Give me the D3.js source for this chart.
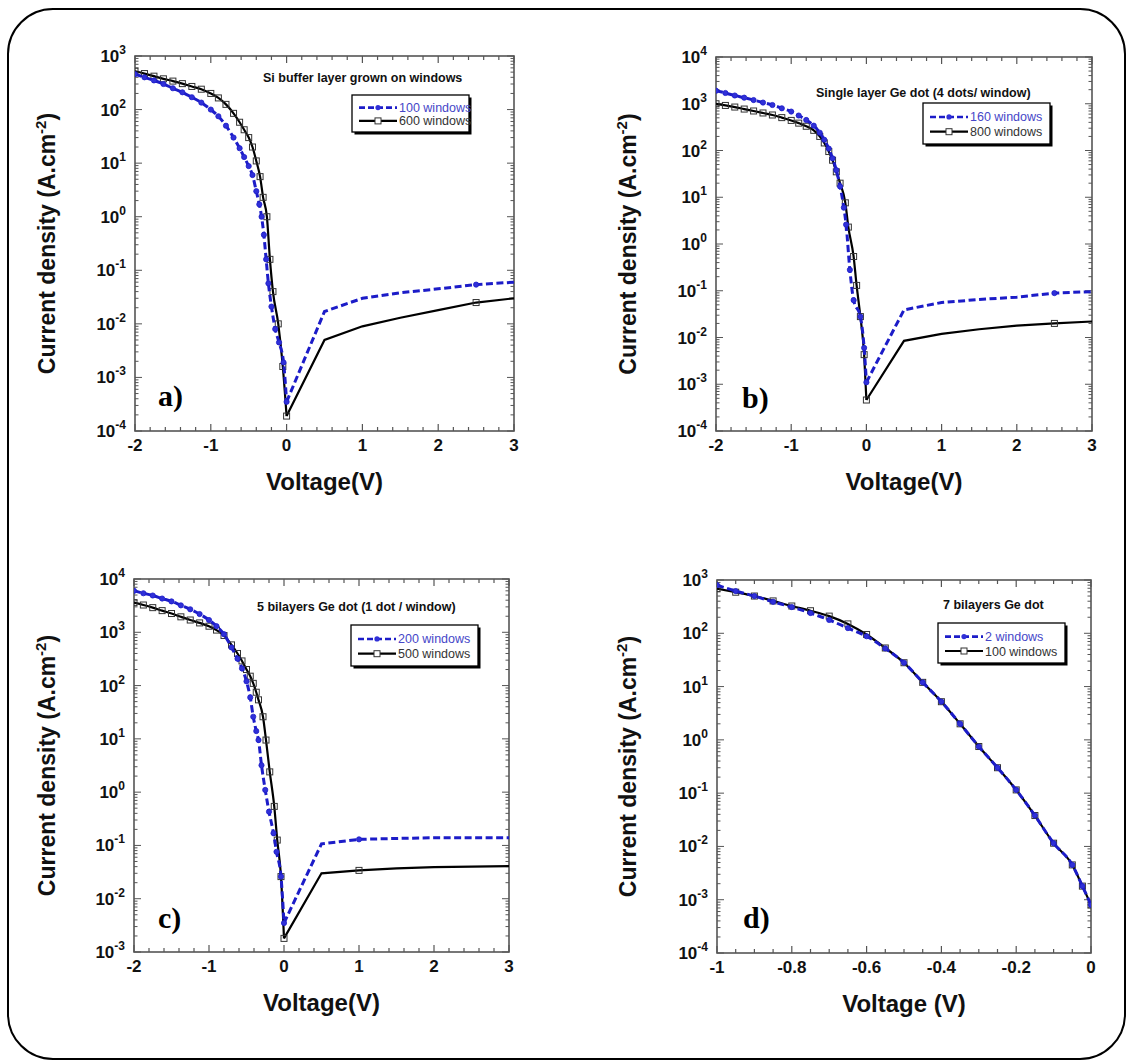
<!DOCTYPE html>
<html><head><meta charset="utf-8">
<script src="https://cdn.jsdelivr.net/npm/d3@7"></script>
<style>body{margin:0;background:#fff}svg{display:block}</style>
</head><body>
<svg id="c" width="1129" height="1062"></svg>
<script>
// ---------------- DATA ----------------
// Panel a: Si buffer layer grown on windows
const aBlueV = [-2, -1.875, -1.75, -1.625, -1.5, -1.375, -1.25, -1.125, -1, -0.9, -0.8, -0.7, -0.62, -0.56, -0.5, -0.45, -0.4, -0.36, -0.33, -0.3, -0.27, -0.24, -0.2, -0.15, -0.1, -0.04, 0, 0.5, 1, 1.5, 2, 2.5, 3];
const aBlueJ = [460, 400, 350, 300, 250, 210, 170, 135, 100, 75, 50, 30, 19, 13, 8.8, 6, 3, 1.7, 1.0, 0.46, 0.16, 0.057, 0.021, 0.008, 0.0045, 0.0019, 0.00035, 0.017, 0.03, 0.038, 0.045, 0.054, 0.06];
const aBlackV = [-2, -1.875, -1.75, -1.625, -1.5, -1.375, -1.25, -1.125, -1, -0.9, -0.8, -0.7, -0.62, -0.56, -0.5, -0.45, -0.4, -0.35, -0.31, -0.26, -0.22, -0.18, -0.11, -0.05, 0, 0.5, 1, 1.5, 2, 2.5, 3];
const aBlackJ = [520, 470, 420, 375, 340, 305, 270, 240, 200, 165, 125, 85, 58, 42, 30, 20, 11, 5.6, 2.3, 1.0, 0.16, 0.04, 0.01, 0.0016, 0.00019, 0.005, 0.009, 0.013, 0.018, 0.025, 0.03];
// Panel b: Single layer Ge dot (4 dots/ window)
const bBlueV = [-2, -1.875, -1.75, -1.625, -1.5, -1.375, -1.25, -1.125, -1, -0.9, -0.8, -0.7, -0.62, -0.56, -0.5, -0.45, -0.4, -0.35, -0.3, -0.27, -0.22, -0.17, -0.08, -0.03, 0, 0.5, 1, 1.5, 2, 2.5, 3];
const bBlueJ = [1900, 1700, 1500, 1350, 1200, 1060, 940, 800, 680, 560, 450, 340, 240, 170, 110, 68, 38, 17, 6, 2.6, 0.28, 0.063, 0.028, 0.006, 0.0011, 0.039, 0.056, 0.065, 0.073, 0.089, 0.096];
const bBlackV = [-2, -1.875, -1.75, -1.625, -1.5, -1.375, -1.25, -1.125, -1, -0.9, -0.8, -0.7, -0.62, -0.56, -0.5, -0.45, -0.4, -0.35, -0.28, -0.24, -0.17, -0.13, -0.08, -0.03, 0, 0.5, 1, 1.5, 2, 2.5, 3];
const bBlackJ = [1000, 920, 850, 770, 700, 635, 575, 505, 440, 385, 330, 270, 200, 145, 95, 62, 35, 20, 7.6, 2.3, 0.54, 0.13, 0.028, 0.0043, 0.00046, 0.0085, 0.012, 0.015, 0.018, 0.02, 0.022];
// Panel c: 5 bilayers Ge dot (1 dot / window)
const cBlueV = [-2, -1.875, -1.75, -1.625, -1.5, -1.375, -1.25, -1.125, -1, -0.9, -0.8, -0.7, -0.62, -0.56, -0.5, -0.45, -0.41, -0.37, -0.34, -0.3, -0.25, -0.2, -0.14, -0.1, -0.04, 0, 0.5, 1, 1.5, 2, 2.5, 3];
const cBlueJ = [6000, 5400, 4900, 4300, 3800, 3200, 2700, 2200, 1700, 1300, 920, 520, 320, 210, 120, 60, 26, 14, 9.5, 3.2, 1.1, 0.43, 0.17, 0.076, 0.026, 0.0035, 0.107, 0.13, 0.135, 0.14, 0.14, 0.14];
const cBlackV = [-2, -1.875, -1.75, -1.625, -1.5, -1.375, -1.25, -1.125, -1, -0.9, -0.8, -0.7, -0.62, -0.56, -0.5, -0.45, -0.41, -0.37, -0.34, -0.28, -0.24, -0.19, -0.13, -0.09, -0.04, 0, 0.5, 1, 1.5, 2, 2.5, 3];
const cBlackJ = [3600, 3250, 2900, 2550, 2250, 1950, 1700, 1500, 1300, 1100, 870, 580, 400, 290, 200, 150, 110, 75, 54, 26, 9.5, 2.4, 0.54, 0.126, 0.026, 0.0018, 0.03, 0.034, 0.037, 0.039, 0.04, 0.041];
// Panel d: 7 bilayers Ge dot
const dBlueV = [-1, -0.95, -0.9, -0.85, -0.8, -0.75, -0.7, -0.65, -0.6, -0.55, -0.5, -0.45, -0.4, -0.35, -0.3, -0.25, -0.2, -0.15, -0.1, -0.05, -0.023, 0];
const dBlueJ = [800, 620, 500, 390, 310, 240, 178, 125, 88, 52, 28, 12, 5.2, 2.0, 0.75, 0.3, 0.115, 0.038, 0.0115, 0.0045, 0.0018, 0.0008];
const dBlackV = [-1, -0.95, -0.9, -0.85, -0.8, -0.75, -0.7, -0.65, -0.6, -0.55, -0.5, -0.45, -0.4, -0.35, -0.3, -0.25, -0.2, -0.15, -0.1, -0.05, -0.023, 0];
const dBlackJ = [690, 590, 500, 405, 325, 265, 210, 150, 95, 53, 28, 12, 5.2, 2.0, 0.75, 0.3, 0.115, 0.038, 0.0115, 0.0045, 0.0018, 0.0008];

// Extra markers drawn in the forward-bias part
const aExtraMarks = [2.5];
const bExtraMarks = [2.5];
const cExtraMarks = [1];
const dExtraMarks = [];

// Texts
const titles = ["Si buffer layer grown on windows", "Single layer Ge dot (4 dots/ window)", "5 bilayers Ge dot (1 dot / window)", "7 bilayers Ge dot"];
const legendBlue = ["100 windows", "160 windows", "200 windows", "2 windows"];
const legendBlack = ["600 windows", "800 windows", "500 windows", "100 windows"];
const panelLetters = ["a)", "b)", "c)", "d)"];
const xTitles = ["Voltage(V)", "Voltage(V)", "Voltage(V)", "Voltage (V)"];
const xTicksWide = [-2, -1, 0, 1, 2, 3];
const xTicksD = [-1, -0.8, -0.6, -0.4, -0.2, 0];

// ---------------- LAYOUT ----------------
const BLUE = "#1c1cc8", BLUE_TXT = "#4646c8", BLACK = "#000";
const zip = (V, J) => V.map((v, i) => ({v, j: J[i]}));
const panels = [
  {l:135, r:514, t:56, b:431, xd:[-2,3], yd:[1e-4,1e3], xt:xTicksWide, minorStep:0.2,
   blue:zip(aBlueV,aBlueJ), black:zip(aBlackV,aBlackJ), extra:aExtraMarks,
   titleX:263, titleY:82, leg:{x:352,y:95,w:117,h:37}, letter:{x:158,y:406}, ytx:55},
  {l:716, r:1092, t:57, b:431, xd:[-2,3], yd:[1e-4,1e4], xt:xTicksWide, minorStep:0.2,
   blue:zip(bBlueV,bBlueJ), black:zip(bBlackV,bBlackJ), extra:bExtraMarks,
   titleX:816, titleY:97, leg:{x:923,y:103,w:127,h:41}, letter:{x:742,y:408}, ytx:636},
  {l:134, r:509, t:579, b:952, xd:[-2,3], yd:[1e-3,1e4], xt:xTicksWide, minorStep:0.2,
   blue:zip(cBlueV,cBlueJ), black:zip(cBlackV,cBlackJ), extra:cExtraMarks,
   titleX:257, titleY:611, leg:{x:351,y:625,w:127,h:41}, letter:{x:158,y:928}, ytx:55},
  {l:717, r:1091, t:580, b:953, xd:[-1,0], yd:[1e-4,1e3], xt:xTicksD, minorStep:0.05,
   blue:zip(dBlueV,dBlueJ), black:zip(dBlackV,dBlackJ), extra:dExtraMarks,
   titleX:943, titleY:609, leg:{x:938,y:623,w:127,h:40}, letter:{x:743,y:928}, ytx:636}
];

const svg = d3.select("#c");
svg.append("rect").attr("width",1129).attr("height",1062).attr("fill","#fff");
// rounded outer frame
svg.append("rect").attr("x",8).attr("y",9).attr("width",1117).attr("height",1050)
  .attr("rx",45).attr("ry",45).attr("fill","none").attr("stroke","#000").attr("stroke-width",2);

const SANS = "'Liberation Sans', Arial, Helvetica, sans-serif";
const SERIF = "'Liberation Serif', 'Times New Roman', serif";

panels.forEach((p, k) => {
  const x = d3.scaleLinear().domain(p.xd).range([p.l, p.r]);
  const y = d3.scaleLog().domain(p.yd).range([p.b, p.t]);
  const g = svg.append("g");

  // ticks (inward on all four sides)
  const axisCol = "#555";
  const minorX = d3.range(p.xd[0], p.xd[1] + 1e-9, p.minorStep);
  const majorSet = new Set(p.xt.map(v => v.toFixed(3)));
  minorX.forEach(v => {
    const major = majorSet.has((+v).toFixed(3));
    const len = major ? 7 : 4;
    const px = x(v);
    g.append("line").attr("x1",px).attr("x2",px).attr("y1",p.b).attr("y2",p.b-len).attr("stroke",axisCol).attr("stroke-width",1.2);
    g.append("line").attr("x1",px).attr("x2",px).attr("y1",p.t).attr("y2",p.t+len).attr("stroke",axisCol).attr("stroke-width",1.2);
  });
  const e0 = Math.round(Math.log10(p.yd[0])), e1 = Math.round(Math.log10(p.yd[1]));
  for (let e = e0; e <= e1; e++) {
    for (let m = 1; m <= 9; m++) {
      const val = m * Math.pow(10, e);
      if (val > p.yd[1] * 1.0001) break;
      const len = m === 1 ? 7 : 3.5;
      const py = y(val);
      g.append("line").attr("x1",p.l).attr("x2",p.l+len).attr("y1",py).attr("y2",py).attr("stroke",axisCol).attr("stroke-width",1);
      g.append("line").attr("x1",p.r).attr("x2",p.r-len).attr("y1",py).attr("y2",py).attr("stroke",axisCol).attr("stroke-width",1);
    }
    const py = y(Math.pow(10, e));
    const t = g.append("text").attr("x", p.l - 9).attr("y", py + 6).attr("text-anchor","end")
      .attr("font-family",SANS).attr("font-weight","bold").attr("font-size",17).attr("fill","#111");
    t.append("tspan").text("10");
    t.append("tspan").attr("dy",-8).attr("font-size",12).text(String(e));
  }
  // frame
  g.append("rect").attr("x",p.l).attr("y",p.t).attr("width",p.r-p.l).attr("height",p.b-p.t)
    .attr("fill","none").attr("stroke",axisCol).attr("stroke-width",1.6);

  // x tick labels
  p.xt.forEach(v => {
    g.append("text").attr("x", x(v)).attr("y", p.b + 20).attr("text-anchor","middle")
      .attr("font-family",SANS).attr("font-weight","bold").attr("font-size",17).attr("fill","#111")
      .text(String(v));
  });

  // axis titles
  g.append("text").attr("x",(p.l+p.r)/2).attr("y",p.b+59).attr("text-anchor","middle")
    .attr("font-family",SANS).attr("font-weight","bold").attr("font-size",24).attr("fill","#111")
    .text(xTitles[k]);
  const yt = g.append("text").attr("transform",`translate(${p.ytx},${(p.t+p.b)/2}) rotate(-90)`)
    .attr("text-anchor","middle").attr("font-family",SANS).attr("font-weight","bold")
    .attr("font-size",23).attr("fill","#111");
  yt.append("tspan").text("Current density (A.cm");
  yt.append("tspan").attr("dy",-9).attr("font-size",15).text("-2");
  yt.append("tspan").attr("dy",9).text(")");

  // curves: smooth through the reverse-bias readings, straight segments for forward bias
  const smooth = d3.line().x(d => x(d.v)).y(d => y(d.j)).curve(d3.curveMonotoneX);
  const straight = d3.line().x(d => x(d.v)).y(d => y(d.j));
  const clip = "clip" + k;
  svg.append("clipPath").attr("id",clip).append("rect").attr("x",p.l).attr("y",p.t-4).attr("width",p.r-p.l).attr("height",p.b-p.t+4);
  const cg = g.append("g").attr("clip-path",`url(#${clip})`);
  const hasMark = d => d.v <= 0 || p.extra.includes(d.v);
  const drawSeries = (data, style) => {
    [smooth(data.filter(d => d.v <= 0)), straight(data.filter(d => d.v >= 0))].forEach(dstr => {
      if (!dstr) return;
      const path = cg.append("path").attr("d", dstr).attr("fill","none");
      style(path);
    });
  };
  drawSeries(p.black, s => s.attr("stroke",BLACK).attr("stroke-width",2.2));
  cg.selectAll(".sq").data(p.black.filter(hasMark)).join("rect")
    .attr("x",d => x(d.v)-3).attr("y",d => y(d.j)-3).attr("width",6).attr("height",6)
    .attr("fill","none").attr("stroke","#333").attr("stroke-width",1);
  drawSeries(p.blue, s => s.attr("stroke",BLUE).attr("stroke-width",3).attr("stroke-dasharray","7,3.5"));
  cg.selectAll(".ci").data(p.blue.filter(hasMark)).join("circle")
    .attr("cx",d => x(d.v)).attr("cy",d => y(d.j)).attr("r",2.6)
    .attr("fill","#3030d8").attr("stroke",BLUE).attr("stroke-width",0.8);

  // panel title
  g.append("text").attr("x",p.titleX).attr("y",p.titleY).attr("font-family",SANS).attr("font-weight","bold")
    .attr("font-size",12.5).attr("fill","#111").text(titles[k]);

  // legend
  const L = p.leg;
  g.append("rect").attr("x",L.x+2.5).attr("y",L.y+2.5).attr("width",L.w).attr("height",L.h).attr("fill","#000");
  g.append("rect").attr("x",L.x).attr("y",L.y).attr("width",L.w).attr("height",L.h).attr("fill","#fff").attr("stroke","#000").attr("stroke-width",1.3);
  const r1 = L.y + L.h*0.34, r2 = L.y + L.h*0.7;
  const lx0 = L.x + 7, lx1 = L.x + 45;
  g.append("line").attr("x1",lx0).attr("x2",lx1).attr("y1",r1).attr("y2",r1).attr("stroke",BLUE).attr("stroke-width",2.6).attr("stroke-dasharray","6,3");
  g.append("circle").attr("cx",(lx0+lx1)/2).attr("cy",r1).attr("r",2.6).attr("fill","#3030d8");
  g.append("line").attr("x1",lx0).attr("x2",lx1).attr("y1",r2).attr("y2",r2).attr("stroke",BLACK).attr("stroke-width",2.2);
  g.append("rect").attr("x",(lx0+lx1)/2-3).attr("y",r2-3).attr("width",6).attr("height",6).attr("fill","#fff").attr("stroke","#333").attr("stroke-width",1);
  g.append("text").attr("x",lx1+2).attr("y",r1+4.5).attr("font-family",SANS).attr("font-size",12.5).attr("fill",BLUE_TXT).text(legendBlue[k]);
  g.append("text").attr("x",lx1+2).attr("y",r2+4.5).attr("font-family",SANS).attr("font-size",12.5).attr("fill","#333").text(legendBlack[k]);

  // panel letter
  g.append("text").attr("x",p.letter.x).attr("y",p.letter.y).attr("font-family",SERIF).attr("font-weight","bold")
    .attr("font-size",30).attr("fill","#000").text(panelLetters[k]);
});
</script>
</body></html>
